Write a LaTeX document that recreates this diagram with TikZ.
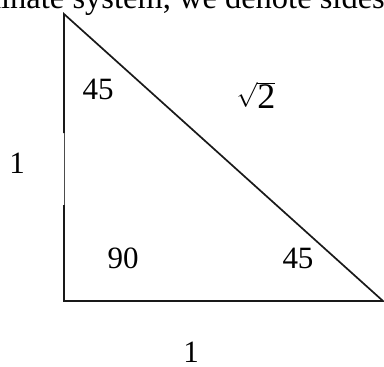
\documentclass[tikz,border=0pt]{standalone}
\usepackage{fontspec}
\setmainfont{Liberation Serif}
\begin{document}
\begin{tikzpicture}[x=1pt,y=-1pt,
  edge/.style={line width=1.7pt,draw=black!90},
  faint/.style={line width=1pt,draw=black!70},
  lbl/.style={font=\fontsize{31}{33}\selectfont,inner sep=0pt}]
\useasboundingbox (0,0) rectangle (384,367);
\clip (0,0) rectangle (384,367);
\node[lbl,anchor=base east,font=\fontsize{32.5}{34}\selectfont] (hdr) at (385,8) {dinate system, we denote sides};
\coordinate (A) at (64,14);
\coordinate (B) at (64,301);
\coordinate (C) at (383,301);
\coordinate (G1) at (64,133);
\coordinate (G2) at (64,205);
\draw[edge,line join=miter] (G1) -- (A) -- (C) -- (B) -- (G2);
\draw[faint] (G1) -- (G2);
\node[lbl] (a1) at (98,89) {45};
\node[lbl,font=\fontsize{36}{38}\selectfont] (h) at (256,95) {$\sqrt{\mbox{2}}$};
\node[lbl] (s1) at (17,163) {1};
\node[lbl] (a2) at (123,258) {90};
\node[lbl] (a3) at (298,258) {45};
\node[lbl] (s2) at (191,352) {1};
\end{tikzpicture}
\end{document}
